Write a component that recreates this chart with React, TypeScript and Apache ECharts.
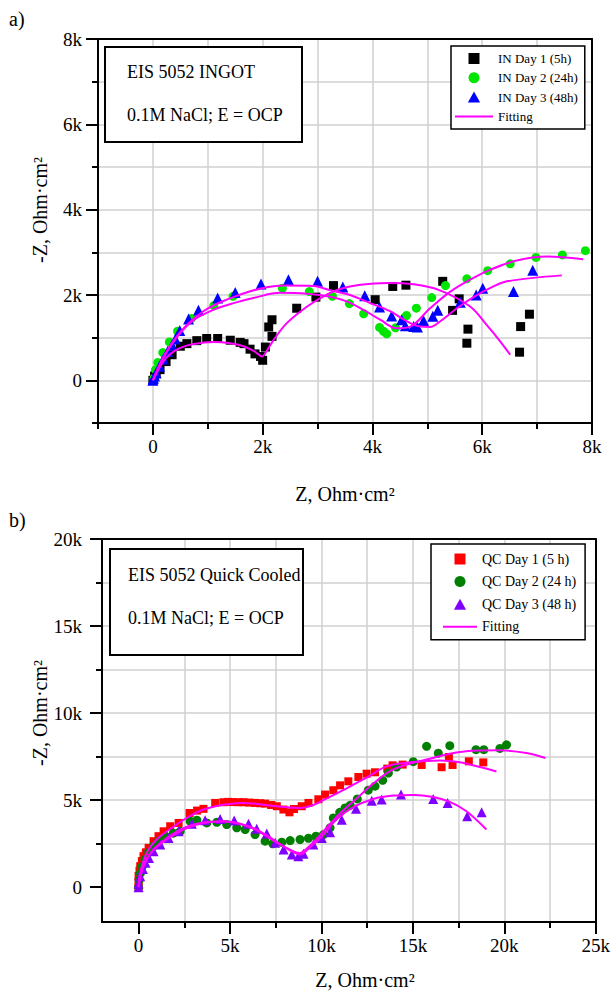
import React, { useEffect, useRef } from 'react';
import * as echarts from 'echarts';

const FONT = 'Liberation Serif';

// ---------- Panel a) : 5052 INGOT (values in kOhm·cm²) ----------
const aXAll = [-1, 0, 1, 2, 3, 4, 5, 6, 7, 8];
const aXMajor = [0, 2, 4, 6, 8];
const aYAll = [-1, 0, 1, 2, 3, 4, 5, 6, 7, 8];
const aYMajor = [0, 2, 4, 6, 8];

const inDay1 = [
  [0.0, 0.0], [0.03, 0.1], [0.06, 0.18], [0.13, 0.25], [0.24, 0.44], [0.35, 0.6], [0.5, 0.8], [0.62, 0.86],
  [0.8, 0.93], [0.98, 0.98], [1.18, 0.98], [1.41, 0.94], [1.59, 0.89], [1.66, 0.86], [1.77, 0.73],
  [1.86, 0.62], [1.96, 0.56], [2.0, 0.47], [2.05, 0.78], [2.17, 1.03], [2.11, 1.25], [2.17, 1.42],
  [2.62, 1.69], [2.97, 1.95], [3.29, 2.22], [4.05, 1.89], [4.37, 2.2], [4.61, 2.23], [5.28, 2.32],
  [5.58, 1.91], [5.46, 1.64], [5.74, 1.2], [5.72, 0.87], [6.68, 0.66], [6.7, 1.26], [6.86, 1.55],
];
const inDay2 = [
  [0.02, 0.05], [0.05, 0.25], [0.09, 0.42], [0.18, 0.65], [0.3, 0.9], [0.45, 1.15], [0.7, 1.45],
  [1.11, 1.75], [1.46, 1.97], [2.36, 2.16], [2.85, 2.08], [3.27, 1.97], [3.58, 1.8], [3.84, 1.56],
  [4.13, 1.24], [4.2, 1.15], [4.26, 1.09], [4.42, 1.23], [4.62, 1.52], [4.8, 1.69], [5.08, 1.94],
  [5.33, 2.22], [5.72, 2.38], [6.1, 2.57], [6.51, 2.73], [6.98, 2.88], [7.46, 2.94], [7.88, 3.04],
];
const inDay3 = [
  [0.0, 0.0], [0.01, 0.05], [0.03, 0.1], [0.06, 0.17], [0.12, 0.33], [0.19, 0.5], [0.27, 0.68],
  [0.35, 0.83], [0.41, 0.97], [0.49, 1.17], [0.65, 1.44], [0.83, 1.64], [1.18, 1.93], [1.5, 2.06],
  [1.97, 2.26], [2.47, 2.36], [3.0, 2.32], [3.46, 2.19], [3.86, 1.98], [4.13, 1.72], [4.35, 1.51],
  [4.53, 1.42], [4.6, 1.28], [4.75, 1.26], [4.82, 1.25], [4.93, 1.4], [5.1, 1.5], [5.19, 1.64],
  [5.6, 1.83], [5.89, 2.0], [6.01, 2.16], [6.57, 2.08], [6.92, 2.58],
];
const inFit1 = [
  [0, 0], [0.02, 0.05], [0.1, 0.25], [0.19, 0.44], [0.32, 0.62], [0.5, 0.76], [0.74, 0.85], [1.1, 0.9],
  [1.41, 0.87], [1.65, 0.8], [1.85, 0.68], [1.99, 0.56], [2.05, 0.64], [2.2, 0.95], [2.44, 1.34],
  [2.81, 1.73], [3.11, 1.97], [3.41, 2.14], [3.78, 2.24], [4.29, 2.28], [4.75, 2.25], [5.23, 2.11],
  [5.78, 1.73], [6.08, 1.3], [6.33, 0.91], [6.51, 0.6],
];
const inFit2 = [
  [0, 0], [0.02, 0.05], [0.1, 0.29], [0.19, 0.52], [0.32, 0.8], [0.5, 1.11], [0.74, 1.41], [1.1, 1.65],
  [1.47, 1.81], [1.83, 1.93], [2.32, 2.05], [2.81, 2.03], [3.23, 1.96], [3.53, 1.85], [3.84, 1.65],
  [4.14, 1.42], [4.44, 1.22], [4.69, 1.26], [5.05, 1.69], [5.42, 2.08], [5.78, 2.36], [6.14, 2.59],
  [6.63, 2.81], [7.18, 2.9], [7.84, 2.84],
];
const inFit3 = [
  [0, 0], [0.08, 0.25], [0.16, 0.48], [0.27, 0.72], [0.41, 0.99], [0.62, 1.3], [0.92, 1.62], [1.23, 1.83],
  [1.59, 2.01], [1.99, 2.16], [2.38, 2.22], [2.93, 2.21], [3.23, 2.11], [3.59, 2.0], [3.96, 1.81],
  [4.32, 1.62], [4.63, 1.38], [4.87, 1.26], [5.05, 1.25], [5.23, 1.38], [5.54, 1.69], [5.84, 1.95],
  [6.14, 2.16], [6.45, 2.32], [7.45, 2.46],
];

// ---------- Panel b) : 5052 Quick Cooled ----------
const bXAll = [0, 2.5, 5, 7.5, 10, 12.5, 15, 17.5, 20, 22.5, 25];
const bXMajor = [0, 5, 10, 15, 20, 25];
const bYAll = [0, 2.5, 5, 7.5, 10, 12.5, 15, 17.5, 20];
const bYMajor = [0, 5, 10, 15, 20];

const qcDay1 = [
  [0, 0], [0.0, 0.3], [0.0, 0.64], [0.05, 0.95], [0.09, 1.21], [0.18, 1.5], [0.27, 1.78], [0.4, 2.0],
  [0.55, 2.26], [0.82, 2.64], [1.09, 2.93], [1.37, 3.21], [1.73, 3.5], [2.19, 3.69], [2.79, 4.26],
  [3.2, 4.4], [3.55, 4.5], [4.19, 4.84], [4.64, 4.88], [4.9, 4.9], [5.15, 4.89], [5.45, 4.88],
  [5.74, 4.88], [6.05, 4.86], [6.37, 4.84], [6.65, 4.82], [6.92, 4.8], [7.25, 4.72], [7.56, 4.65],
  [7.92, 4.46], [8.25, 4.3], [8.5, 4.49], [8.92, 4.65], [9.29, 4.84], [9.83, 5.05], [10.2, 5.32],
  [10.65, 5.57], [11.02, 5.85], [11.47, 6.08], [12.02, 6.33], [12.47, 6.52], [12.93, 6.6], [13.6, 6.81],
  [13.89, 7.0], [14.44, 7.04], [15.48, 7.02], [16.57, 6.89], [16.97, 7.48], [17.17, 7.02], [18.06, 7.23],
  [18.85, 7.17],
];
const qcDay2 = [
  [0, 0], [0.03, 0.4], [0.1, 0.8], [0.2, 1.2], [0.35, 1.6], [0.55, 2.0], [0.8, 2.35], [1.1, 2.65],
  [1.5, 2.9], [1.9, 3.1], [2.28, 3.21], [2.82, 3.79], [3.19, 3.85], [3.73, 3.69], [4.28, 3.73],
  [4.82, 3.6], [5.37, 3.41], [5.83, 3.31], [6.37, 3.02], [6.92, 2.64], [7.34, 2.49], [7.83, 2.58],
  [8.29, 2.68], [8.83, 2.74], [9.29, 2.81], [9.7, 2.93], [10.11, 3.02], [10.47, 3.41], [10.65, 3.98],
  [11.0, 4.3], [11.29, 4.55], [11.57, 4.7], [11.96, 5.07], [12.56, 5.57], [12.93, 5.8], [13.35, 6.14],
  [13.66, 6.56], [14.11, 6.9], [15.02, 7.21], [15.75, 8.09], [16.39, 7.7], [17.02, 8.13], [18.45, 7.9],
  [18.88, 7.9], [19.76, 7.97], [20.12, 8.18],
];
const qcDay3 = [
  [0, 0], [0, 0.21], [0.09, 0.63], [0.24, 1.05], [0.38, 1.4], [0.57, 1.68], [0.82, 2.07], [1.19, 2.45],
  [1.64, 2.83], [2.19, 3.21], [2.91, 3.65], [3.64, 3.85], [4.46, 3.92], [5.23, 3.83], [6.01, 3.64],
  [6.46, 3.35], [7.01, 3.08], [7.47, 2.55], [7.93, 2.16], [8.38, 1.88], [8.74, 1.78], [9.02, 1.92],
  [9.56, 2.45], [10.02, 2.83], [10.47, 3.16], [11.11, 3.88], [11.89, 4.5], [12.75, 4.96], [13.29, 5.03],
  [14.35, 5.32], [16.11, 5.07], [16.9, 4.84], [17.97, 4.07], [18.76, 4.3],
];
const qcFit1 = [
  [0, 0], [0.09, 0.82], [0.36, 1.78], [0.73, 2.45], [1.19, 2.93], [1.82, 3.41], [2.64, 3.98], [3.55, 4.46],
  [4.64, 4.74], [5.74, 4.84], [6.83, 4.74], [7.92, 4.61], [8.83, 4.55], [9.56, 4.72], [10.29, 5.1],
  [11.38, 5.68], [12.47, 6.3], [13.57, 6.94], [14.84, 7.17], [16.48, 7.28], [17.57, 7.17], [18.66, 6.9],
  [19.57, 6.64],
];
const qcFit2 = [
  [0, 0], [0.09, 0.63], [0.27, 1.3], [0.64, 1.93], [1.09, 2.39], [1.73, 2.87], [2.64, 3.4], [3.55, 3.69],
  [4.64, 3.79], [5.55, 3.63], [6.46, 3.27], [7.37, 2.68], [8.28, 2.16], [8.79, 1.95], [9.38, 2.4],
  [10.1, 3.2], [11.02, 4.25], [11.93, 5.1], [12.84, 5.95], [13.75, 6.66], [14.66, 7.04], [15.75, 7.33],
  [17.02, 7.67], [18.3, 7.84], [19.76, 7.86], [21.21, 7.71], [22.25, 7.42],
];
const qcFit3 = [
  [0, 0], [0.13, 0.73], [0.36, 1.4], [0.73, 2.07], [1.19, 2.54], [1.91, 3.08], [2.82, 3.54], [3.73, 3.75],
  [4.64, 3.77], [5.55, 3.65], [6.46, 3.31], [7.37, 2.74], [8.28, 2.12], [8.83, 1.88], [9.38, 2.3],
  [10.1, 3.0], [10.83, 3.9], [11.74, 4.6], [12.84, 5.07], [13.93, 5.26], [15.02, 5.3], [16.11, 5.18],
  [17.02, 4.9], [17.93, 4.36], [19.02, 3.31],
];

const inNames = ['IN Day 1 (5h)', 'IN Day 2 (24h)', 'IN Day 3 (48h)', 'Fitting'];
const qcNames = ['QC Day 1 (5 h)', 'QC Day 2 (24 h)', 'QC Day 3 (48 h)', 'Fitting'];

const SQUARE_ICON = 'path://M0,0H10V10H0Z';
const TRIANGLE_ICON = 'path://M5,0L10,9H0Z';

const fmtK = (v: number) => (v === 0 ? '0' : `${v}k`);

function axisSet(
  gridIndex: number, min: number, max: number, all: number[], major: number[],
  pos: string, opp: string, margin: number,
) {
  const black = { color: '#000', width: 2 };
  return [
    {
      type: 'value', gridIndex, min, max, position: pos,
      axisLine: { show: true, onZero: false, lineStyle: black },
      axisTick: { show: true, customValues: all, length: 6, lineStyle: black },
      axisLabel: { show: false },
      splitLine: { show: true, showMinLine: false, showMaxLine: false, lineStyle: { color: '#d0d0d0', width: 1.5 } },
    },
    {
      type: 'value', gridIndex, min, max, position: pos,
      axisLine: { show: false, onZero: false },
      axisTick: { show: true, customValues: major, length: 12, lineStyle: black },
      axisLabel: {
        show: true, customValues: major, margin, formatter: fmtK,
        color: '#000', fontFamily: FONT, fontSize: 19,
      },
      splitLine: { show: false },
    },
    {
      type: 'value', gridIndex, min, max, position: opp,
      axisLine: { show: true, onZero: false, lineStyle: black },
      axisTick: { show: false }, axisLabel: { show: false }, splitLine: { show: false },
    },
  ];
}

function scatter(name: string, data: number[][], symbol: string, size: number, color: string, xi: number) {
  return {
    type: 'scatter', name, data, symbol, symbolSize: size,
    xAxisIndex: xi, yAxisIndex: xi, itemStyle: { color, opacity: 1 },
  };
}
function fit(data: number[][], xi: number) {
  return {
    type: 'line', name: 'Fitting', data, xAxisIndex: xi, yAxisIndex: xi, smooth: 0.35,
    symbol: 'none', showSymbol: false, lineStyle: { color: '#ff00ff', width: 2 }, itemStyle: { color: '#ff00ff' },
  };
}

function legendData(names: string[], lineW: number) {
  const icons = [SQUARE_ICON, 'circle', TRIANGLE_ICON, `path://M0,0H${lineW}V2H0Z`];
  return names.map((n, i) => ({ name: n, icon: icons[i] }));
}

export default function App() {
  const ref = useRef<HTMLDivElement>(null);
  useEffect(() => {
    document.body.style.margin = '0';
    const chart = echarts.init(ref.current!, undefined, { renderer: 'svg' });
    const titleFont = `20px "${FONT}"`;
    const boxFont = `18px "${FONT}"`;
    chart.setOption({
      animation: false,
      backgroundColor: '#fff',
      grid: [
        { left: 98, right: 21, top: 39, bottom: 573 },
        { left: 102, right: 17, top: 539, bottom: 74 },
      ],
      xAxis: [
        ...axisSet(0, -1, 8, aXAll, aXMajor, 'bottom', 'top', 14),
        ...axisSet(1, -2, 25, bXAll, bXMajor, 'bottom', 'top', 14),
      ],
      yAxis: [
        ...axisSet(0, -1, 8, aYAll, aYMajor, 'left', 'right', 16),
        ...axisSet(1, -2, 20, bYAll, bYMajor, 'left', 'right', 20),
      ],
      legend: [
        {
          left: 451, top: 46, orient: 'vertical', data: legendData(inNames, 38), selectedMode: false,
          itemWidth: 38, itemHeight: 11, itemGap: 6.3, padding: [6, 7, 6, 4], symbolKeepAspect: true,
          borderColor: '#000', borderWidth: 1.5, backgroundColor: '#fff',
          textStyle: { fontFamily: FONT, fontSize: 13, color: '#000' },
        },
        {
          left: 431, top: 544, orient: 'vertical', data: legendData(qcNames, 34), selectedMode: false,
          itemWidth: 34, itemHeight: 11, itemGap: 8.6, padding: [8, 9, 6, 12], symbolKeepAspect: true,
          borderColor: '#000', borderWidth: 1.5, backgroundColor: '#fff',
          textStyle: { fontFamily: FONT, fontSize: 14, color: '#000' },
        },
      ],
      series: [
        scatter(inNames[0], inDay1, 'rect', 9, '#000000', 0),
        scatter(inNames[1], inDay2, 'circle', 9, '#00e600', 0),
        scatter(inNames[2], inDay3, 'triangle', 11, '#0000ff', 0),
        fit(inFit1, 0), fit(inFit2, 0), fit(inFit3, 0),
        scatter(qcNames[0], qcDay1, 'rect', 8, '#ff0000', 3),
        scatter(qcNames[1], qcDay2, 'circle', 9, '#007f00', 3),
        scatter(qcNames[2], qcDay3, 'triangle', 10, '#8000ff', 3),
        fit(qcFit1, 3), fit(qcFit2, 3), fit(qcFit3, 3),
      ],
      graphic: [
        { type: 'text', x: 9, y: 9, z: 10, style: { text: 'a)', font: titleFont, fill: '#000' } },
        { type: 'text', x: 9, y: 510, z: 10, style: { text: 'b)', font: titleFont, fill: '#000' } },
        { type: 'rect', z: 10, shape: { x: 105, y: 47, width: 197, height: 95 }, style: { fill: '#fff', stroke: '#000', lineWidth: 2 } },
        { type: 'text', z: 11, x: 127, y: 72, style: { text: 'EIS 5052 INGOT', font: boxFont, fill: '#000', verticalAlign: 'middle' } },
        { type: 'text', z: 11, x: 127, y: 115, style: { text: '0.1M NaCl; E = OCP', font: boxFont, fill: '#000', verticalAlign: 'middle' } },
        { type: 'rect', z: 10, shape: { x: 110, y: 549, width: 193, height: 106 }, style: { fill: '#fff', stroke: '#000', lineWidth: 2 } },
        { type: 'text', z: 11, x: 128, y: 575, style: { text: 'EIS 5052 Quick Cooled', font: boxFont, fill: '#000', verticalAlign: 'middle' } },
        { type: 'text', z: 11, x: 128, y: 618, style: { text: '0.1M NaCl; E = OCP', font: boxFont, fill: '#000', verticalAlign: 'middle' } },
        { type: 'text', z: 10, x: 345, y: 494, style: { text: 'Z, Ohm·cm²', font: titleFont, fill: '#000', align: 'center', verticalAlign: 'middle' } },
        { type: 'text', z: 10, x: 40, y: 210, rotation: Math.PI / 2, style: { text: '-Z, Ohm·cm²', font: titleFont, fill: '#000', align: 'center', verticalAlign: 'middle' } },
        { type: 'text', z: 10, x: 365, y: 980, style: { text: 'Z, Ohm·cm²', font: titleFont, fill: '#000', align: 'center', verticalAlign: 'middle' } },
        { type: 'text', z: 10, x: 40, y: 713, rotation: Math.PI / 2, style: { text: '-Z, Ohm·cm²', font: titleFont, fill: '#000', align: 'center', verticalAlign: 'middle' } },
      ],
    });
    return () => chart.dispose();
  }, []);
  return <div ref={ref} style={{ width: 613, height: 996 }} />;
}
